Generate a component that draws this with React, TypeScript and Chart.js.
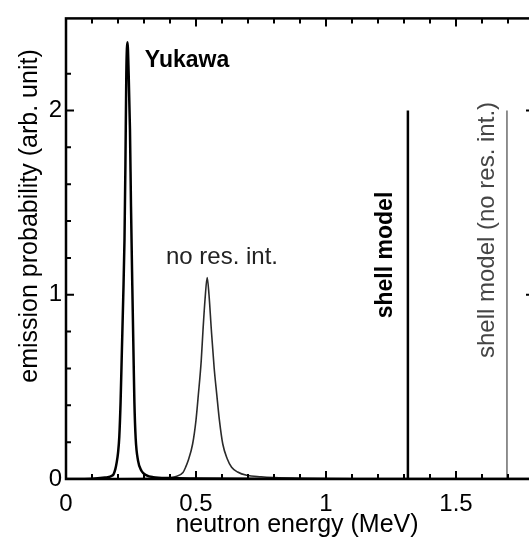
import { useEffect, useRef } from 'react';
import { Chart, registerables } from 'chart.js';

Chart.register(...registerables);

// Yukawa curve (neutron energy in MeV, emission probability in arb. unit)
const yukawaEnergy = [0, 0.1, 0.15, 0.18, 0.19, 0.195, 0.2, 0.205, 0.21, 0.215, 0.22, 0.225, 0.2285, 0.232, 0.2365, 0.241, 0.246, 0.25, 0.255, 0.26, 0.263, 0.268, 0.277, 0.29, 0.31, 0.335, 0.4, 0.5, 0.7, 1.0, 1.8];
const yukawaProb = [0, 0.002, 0.008, 0.02, 0.055, 0.09, 0.14, 0.23, 0.42, 0.7, 0.98, 1.3, 1.7, 2.2, 2.37, 2.2, 1.9, 1.48, 1.05, 0.65, 0.42, 0.22, 0.1, 0.045, 0.02, 0.01, 0.005, 0.003, 0.001, 0, 0];

// "no res. int." curve
const noResEnergy = [0, 0.3, 0.38, 0.42, 0.45, 0.46, 0.47, 0.487, 0.5, 0.509, 0.52, 0.527, 0.535, 0.543, 0.55, 0.559, 0.57, 0.58, 0.59, 0.603, 0.62, 0.637, 0.66, 0.695, 0.75, 0.8, 0.9, 1.0, 1.2, 1.8];
const noResProb = [0, 0.002, 0.005, 0.012, 0.035, 0.064, 0.1, 0.19, 0.32, 0.457, 0.64, 0.81, 0.98, 1.094, 1.0, 0.81, 0.6, 0.457, 0.32, 0.19, 0.11, 0.064, 0.038, 0.02, 0.012, 0.008, 0.004, 0.002, 0, 0];

// shell-model discrete lines
const shellModelEnergy = [1.315, 1.315];
const shellModelNoResEnergy = [1.696, 1.696];
const shellLineProb = [0, 2];

const xTickLabels = ['0', '0.5', '1', '1.5'];
const yTickLabels = ['0', '1', '2'];

const FONT = '"Liberation Sans", Arial, Helvetica, sans-serif';

const pts = (xs: number[], ys: number[]) => xs.map((x, i) => ({ x, y: ys[i] }));
const fmt = (v: number) => String(Math.round(v * 1000) / 1000);

const framePlugin = {
  id: 'frameAndNotes',
  afterDraw(chart: any) {
    const { ctx, chartArea: a, scales } = chart;
    const xs = scales.x;
    const ys = scales.y;
    ctx.save();
    ctx.strokeStyle = '#000';
    ctx.lineWidth = 2;
    xs.ticks.forEach((t: any) => {
      const v = t.value;
      if (Math.abs(v * 10 - Math.round(v * 10)) > 1e-6) return;
      const major = Math.abs(v * 2 - Math.round(v * 2)) < 1e-6;
      const len = major ? 8 : 5;
      const px = xs.getPixelForValue(v);
      ctx.beginPath();
      ctx.moveTo(px, a.bottom);
      ctx.lineTo(px, a.bottom - len);
      ctx.moveTo(px, a.top);
      ctx.lineTo(px, a.top + len);
      ctx.stroke();
    });
    ys.ticks.forEach((t: any) => {
      const v = t.value;
      if (Math.abs(v * 5 - Math.round(v * 5)) > 1e-6) return;
      const major = Math.abs(v - Math.round(v)) < 1e-6;
      const len = major ? 8 : 5;
      const py = ys.getPixelForValue(v);
      ctx.beginPath();
      ctx.moveTo(a.left, py);
      ctx.lineTo(a.left + len, py);
      ctx.moveTo(a.right, py);
      ctx.lineTo(a.right - len, py);
      ctx.stroke();
    });
    ctx.lineWidth = 2.5;
    ctx.strokeRect(a.left, a.top, a.right - a.left, a.bottom - a.top);

    const text = (s: string, x: number, y: number, font: string, color: string, rot = false) => {
      ctx.save();
      ctx.translate(x, y);
      if (rot) ctx.rotate(-Math.PI / 2);
      ctx.font = font;
      ctx.fillStyle = color;
      ctx.textAlign = 'center';
      ctx.textBaseline = 'middle';
      ctx.fillText(s, 0, 0);
      ctx.restore();
    };
    text('Yukawa', 187, 61, `bold 23px ${FONT}`, '#000');
    text('no res. int.', 222, 257, `24px ${FONT}`, '#222');
    text('shell model', 386, 255, `bold 23px ${FONT}`, '#000', true);
    text('shell model (no res. int.)', 487, 230, `24px ${FONT}`, '#444', true);
    text('emission probability (arb. unit)', 30, 216, `25px ${FONT}`, '#000', true);
    text('neutron energy (MeV)', 297, 525, `25px ${FONT}`, '#000');
    ctx.restore();
  },
};

export default function App() {
  const ref = useRef<HTMLCanvasElement | null>(null);
  useEffect(() => {
    if (!ref.current) return;
    const chart = new Chart(ref.current, {
      type: 'scatter',
      data: {
        datasets: [
          { data: pts(yukawaEnergy, yukawaProb), showLine: true, borderColor: '#000', borderWidth: 2.5, pointRadius: 0, cubicInterpolationMode: 'monotone' },
          { data: pts(noResEnergy, noResProb), showLine: true, borderColor: '#2a2a2a', borderWidth: 1.6, pointRadius: 0, cubicInterpolationMode: 'monotone' },
          { data: pts(shellModelEnergy, shellLineProb), showLine: true, borderColor: '#000', borderWidth: 2.5, pointRadius: 0 },
          { data: pts(shellModelNoResEnergy, shellLineProb), showLine: true, borderColor: '#555', borderWidth: 1.3, pointRadius: 0 },
        ],
      },
      options: {
        responsive: false,
        animation: false,
        layout: { padding: { left: 0, top: 10, right: 11, bottom: 0 } },
        plugins: { legend: { display: false }, tooltip: { enabled: false } },
        scales: {
          x: {
            type: 'linear',
            min: 0,
            max: 1.8,
            grid: { display: false, drawTicks: false },
            border: { display: false },
            afterFit: (s: any) => { s.height = 67; },
            ticks: {
              stepSize: 0.1,
              autoSkip: false,
              maxRotation: 0,
              padding: 11,
              color: '#000',
              font: { family: FONT, size: 24 },
              callback: (v: any) => (xTickLabels.includes(fmt(Number(v))) ? fmt(Number(v)) : ''),
            },
          },
          y: {
            type: 'linear',
            min: 0,
            max: 2.5,
            grid: { display: false, drawTicks: false },
            border: { display: false },
            afterFit: (s: any) => { s.width = 66; },
            ticks: {
              stepSize: 0.2,
              autoSkip: false,
              padding: 4,
              color: '#000',
              font: { family: FONT, size: 24 },
              callback: (v: any) => (yTickLabels.includes(fmt(Number(v))) ? fmt(Number(v)) : ''),
            },
          },
        },
      },
      plugins: [framePlugin],
    });
    return () => chart.destroy();
  }, []);
  return (
    <div style={{ position: 'fixed', left: 0, top: 0, width: 529, height: 546, overflow: 'hidden', background: '#fff' }}>
      <canvas ref={ref} width={545} height={546} style={{ width: 545, height: 546, display: 'block' }} />
    </div>
  );
}
